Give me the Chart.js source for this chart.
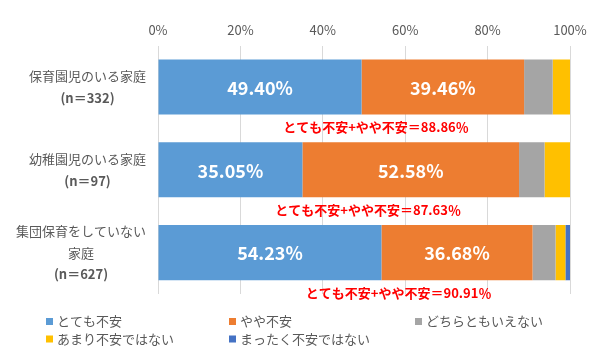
<!DOCTYPE html>
<html>
<head>
<meta charset="utf-8">
<script src="https://cdn.jsdelivr.net/npm/chart.js@4"></script>
<style>
  html, body { margin: 0; padding: 0; background: #fff; }
  #wrap { width: 600px; height: 353px; position: relative; }
</style>
</head>
<body>
<div id="wrap"><canvas id="myChart" width="600" height="353"></canvas></div>
<script>
// categories (one line per array item)
const categoryLines = [
    ['保育園児のいる家庭', '(n＝332)'],
    ['幼稚園児のいる家庭', '(n＝97)'],
    ['集団保育をしていない', '家庭', '(n＝627)']
];
const seriesNames = ['とても不安', 'やや不安', 'どちらともいえない', 'あまり不安ではない', 'まったく不安ではない'];
const seriesColors = ['#5B9BD5', '#ED7D31', '#A5A5A5', '#FFC000', '#4472C4'];

// % values
const veryAnxious     = [49.40, 35.05, 54.23];
const somewhatAnxious = [39.46, 52.58, 36.68];
const neutral         = [6.93, 6.19, 5.58];
const notVeryAnxious  = [4.21, 6.19, 2.39];
const notAtAllAnxious = [0, 0, 1.12];
const xTicks = [0, 20, 40, 60, 80, 100];

// where the red "total" notes sit along the x axis (%)
const noteCenters = [52.9, 51.0, 58.4];

const FONT = '"Noto Sans CJK JP", "Noto Sans", sans-serif';
const TEXT_GRAY = '#595959';

const allSeries = [veryAnxious, somewhatAnxious, neutral, notVeryAnxious, notAtAllAnxious];

const extras = {
    id: 'extras',
    afterDatasetsDraw(chart) {
        const c = chart.ctx;
        const xs = chart.scales.x;
        const ys = chart.scales.y;
        c.save();

        // value labels inside first two series
        c.fillStyle = '#fff';
        c.font = 'bold 18px ' + FONT;
        c.textAlign = 'center';
        c.textBaseline = 'middle';
        [0, 1].forEach(di => {
            chart.getDatasetMeta(di).data.forEach((el, i) => {
                let v = allSeries[di][i];
                c.fillText(v.toFixed(2) + '%', (el.x + el.base) / 2, el.y + 1);
            });
        });

        // red totals under each bar
        c.fillStyle = '#FF0000';
        c.font = 'bold 13px ' + FONT;
        categoryLines.forEach((_, i) => {
            let total = veryAnxious[i] + somewhatAnxious[i];
            let y = ys.getPixelForValue(i) + 40;
            c.fillText('とても不安+やや不安＝' + total.toFixed(2) + '％', xs.getPixelForValue(noteCenters[i]), y);
        });

        // category labels on the left
        c.fillStyle = TEXT_GRAY;
        categoryLines.forEach((lines, i) => {
            let cy = ys.getPixelForValue(i);
            let lh = lines.length > 2 ? 21.5 : 22;
            let widths = lines.map((t, k) => {
                c.font = (k === lines.length - 1 ? 'bold ' : '') + '13px ' + FONT;
                return c.measureText(t).width;
            });
            let blockW = Math.max(...widths);
            let right = chart.chartArea.left - 12;
            lines.forEach((t, k) => {
                c.font = (k === lines.length - 1 ? 'bold ' : '') + '13px ' + FONT;
                let y = cy + (k - (lines.length - 1) / 2) * lh;
                c.fillText(t, right - blockW / 2, y);
            });
        });

        // legend
        const cols = [46, 229, 415];
        const rows = [321.5, 339];
        c.font = '13px ' + FONT;
        c.textAlign = 'left';
        seriesNames.forEach((name, i) => {
            let x = cols[i % 3], y = rows[Math.floor(i / 3)];
            c.fillStyle = seriesColors[i];
            c.fillRect(x, y - 3.5, 7, 7);
            c.fillStyle = TEXT_GRAY;
            c.fillText(name, x + 11, y);
        });

        c.restore();
    }
};

const ctx = document.getElementById('myChart').getContext('2d');

let chart = new Chart(ctx, {
    type: 'bar',
    data: {
        labels: categoryLines.map(l => l.join(' ')),
        datasets: allSeries.map((d, i) => ({
            label: seriesNames[i],
            data: d,
            backgroundColor: seriesColors[i],
            borderWidth: 0,
            barPercentage: 0.665,
            categoryPercentage: 1
        }))
    },
    options: {
        indexAxis: 'y',
        responsive: false,
        animation: false,
        devicePixelRatio: 1,
        layout: { padding: { left: 158, right: 30, top: 14, bottom: 59 } },
        plugins: {
            legend: { display: false },
            tooltip: { enabled: false }
        },
        scales: {
            x: {
                position: 'top',
                stacked: true,
                min: 0,
                max: 100,
                afterBuildTicks: axis => { axis.ticks = xTicks.map(v => ({ value: v })); },
                grid: { color: '#D9D9D9', drawTicks: false },
                border: { display: false },
                ticks: {
                    padding: 8,
                    maxRotation: 0,
                    color: TEXT_GRAY,
                    font: { family: FONT, size: 13 },
                    callback: v => v + '%'
                }
            },
            y: {
                stacked: true,
                display: false
            }
        }
    },
    plugins: [extras]
});
</script>
</body>
</html>
